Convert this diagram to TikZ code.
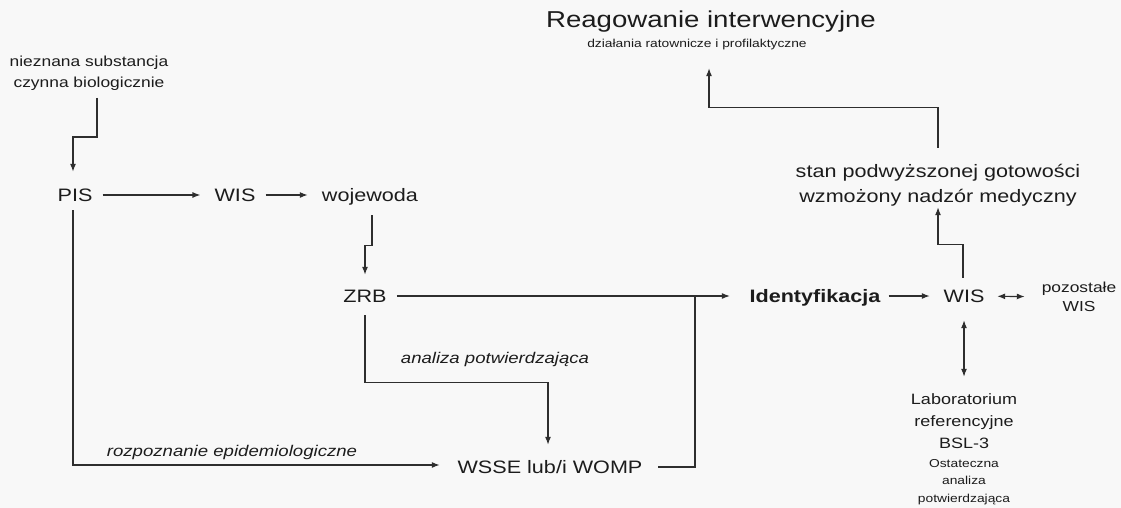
\documentclass[tikz,border=0pt]{standalone}
\usepackage{fontspec}
\setmainfont{Liberation Sans}[FakeStretch=1.2]
\usetikzlibrary{arrows.meta}
\definecolor{ink}{HTML}{1C1C1C}
\definecolor{wire}{HTML}{2E2E2E}
\definecolor{paper}{HTML}{F8F8F8}
\begin{document}
\begin{tikzpicture}[x=1pt,y=-1pt,
  lbl/.style={inner xsep=5pt,inner ysep=4pt,text=ink,
    font=\fontsize{18pt}{22pt}\selectfont,text height=13pt,text depth=0pt},
  multi/.style={inner xsep=5pt,inner ysep=4pt,text=ink,align=center},
  note/.style={inner sep=0pt,text=ink,anchor=base,
    font=\fontsize{15.5pt}{18pt}\selectfont\itshape},
  ln/.style={draw=wire,line width=1.2pt},
  tip/.tip={Latex[length=8pt,width=6pt]},
  arr/.style={ln,-tip,shorten <=5pt,shorten >=9pt},
  biarr/.style={ln,tip-tip},
]
\useasboundingbox[fill=paper] (0,0) rectangle (1121,508);

% ---- nodes ----
\node[multi,font=\fontsize{14.5pt}{21pt}\selectfont] (niez) at (89,73)
  {nieznana substancja\\czynna biologicznie};
\node[lbl] (pis)  at (75,195)  {PIS};
\node[lbl] (wis1) at (235,195) {WIS};
\node[lbl] (woj)  at (370,195) {wojewoda};
\node[lbl] (zrb)  at (365,296) {ZRB};
\node[lbl,font=\fontsize{18pt}{22pt}\selectfont\bfseries] (ident) at (815,296) {Identyfikacja};
\node[lbl] (wis2) at (964,296) {WIS};
\node[multi,font=\fontsize{14.5pt}{19pt}\selectfont] (poz) at (1079,297) {pozostałe\\WIS};
\node[lbl] (wsse) at (550,467) {WSSE lub/i WOMP};
\node[multi,font=\fontsize{18pt}{25pt}\selectfont] (stan) at (938,185)
  {stan podwyższonej gotowości\\wzmożony nadzór medyczny};
\node[inner sep=0pt,anchor=base,text=ink,font=\fontsize{23pt}{26pt}\selectfont] (reag) at (711,28)
  {Reagowanie interwencyjne};
\node[inner xsep=0pt,inner ysep=4pt,anchor=base,text=ink,font=\fontsize{11.5pt}{14pt}\selectfont] (dzial) at (697,48)
  {działania ratownicze i profilaktyczne};
\node[multi,font=\fontsize{15pt}{22pt}\selectfont] (lab) at (964,421.5)
  {Laboratorium\\referencyjne\\BSL-3};
\node[multi,font=\fontsize{11.5pt}{17.5pt}\selectfont] (ost) at (964,482)
  {Ostateczna\\analiza\\potwierdzająca};
\node[note] (anal) at (495,363) {analiza potwierdzająca};
\node[note] (rozp) at (232,456) {rozpoznanie epidemiologiczne};
\coordinate (jn) at (695,296);

% ---- connectors ----
\draw[arr,shorten <=3.5pt,shorten >=12.5pt] ([xshift=8pt]niez.south) -- ++(0,42.5) -| ([xshift=-2pt]pis.north);
\draw[arr] (pis) -- (wis1);
\draw[arr] (wis1) -- (woj);
\draw[arr,shorten <=9.5pt,shorten >=10.5pt] ([xshift=2pt]woj.south) -- ++(0,39.5) -| (zrb.north);
\draw[arr,shorten >=14.5pt] (zrb) -- (ident);
\draw[arr,shorten <=3pt,shorten >=8.6pt] (ident) -- (wis2);
\draw[biarr,shorten <=7.6pt,shorten >=11.8pt] (wis2) -- (poz);
\draw[biarr,shorten <=13.5pt,shorten >=13pt] (wis2) -- (lab);
\draw[arr,shorten <=7.5pt,shorten >=-3pt] ([xshift=-1pt]wis2.north) -- ++(0,-40.5) -| (stan.south);
\draw[arr,shorten <=12pt,shorten >=13.6pt] (stan.north) -- ++(0,-52) -| ([xshift=12pt]dzial.south);
\draw[arr,shorten <=8.5pt,shorten >=11.5pt] (zrb.south) -- ++(0,75.5) -| ([xshift=-2pt]wsse.north);
\draw[arr,shorten <=4.5pt,shorten >=12.6pt] ([xshift=-2pt]pis.south) |- ([yshift=2pt]wsse.west);
\draw[ln,shorten <=10.6pt] (wsse.east) -| (jn);
\end{tikzpicture}
\end{document}
